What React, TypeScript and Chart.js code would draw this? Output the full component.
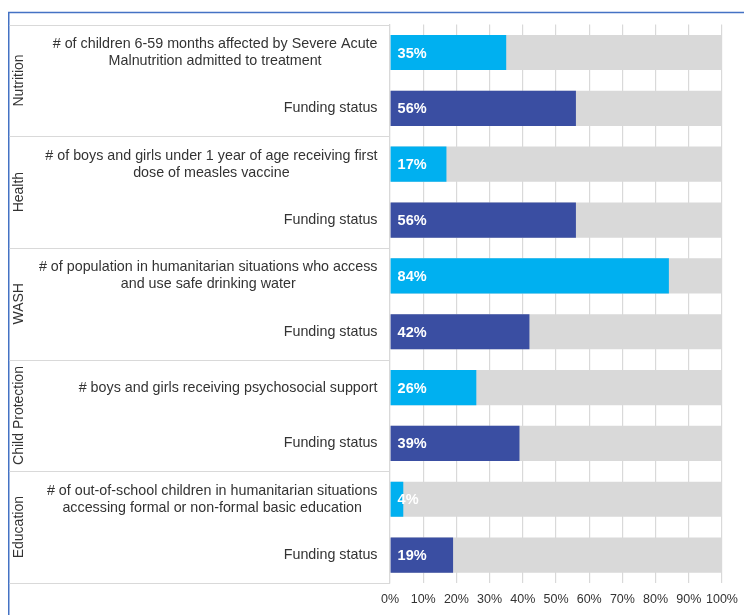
import React, { useEffect, useRef } from "react";
import { Chart, registerables } from "chart.js";

Chart.register(...registerables);

const groups = ["Nutrition", "Health", "WASH", "Child Protection", "Education"];

const indicatorLabels: string[][] = [
  ["# of children 6-59 months affected by Severe Acute", "Malnutrition admitted to treatment"],
  ["Funding status"],
  ["# of boys and girls under 1 year of age receiving first", "dose of measles vaccine"],
  ["Funding status"],
  ["# of population in humanitarian situations who access", "and use safe drinking water"],
  ["Funding status"],
  ["# boys and girls receiving psychosocial support"],
  ["Funding status"],
  ["# of out-of-school children in humanitarian situations", "accessing formal or non-formal basic education"],
  ["Funding status"],
];

const values = [35, 56, 17, 56, 84, 42, 26, 39, 4, 19];
const track = [100, 100, 100, 100, 100, 100, 100, 100, 100, 100];
const xTicks = [0, 10, 20, 30, 40, 50, 60, 70, 80, 90, 100];

const INDICATOR_COLOR = "#00B0F0";
const FUNDING_COLOR = "#3A4EA2";
const TRACK_COLOR = "#D9D9D9";
const TEXT_COLOR = "#333333";
const FONT = "'Liberation Sans', Arial, sans-serif";

const W = 744;
const H = 615;

export default function App() {
  const ref = useRef<HTMLCanvasElement | null>(null);

  useEffect(() => {
    const canvas = ref.current;
    if (!canvas) return;

    const framePlugin = {
      id: "frame",
      beforeDraw(chart: any) {
        const ctx = chart.ctx;
        ctx.save();
        ctx.strokeStyle = "#4472C4";
        ctx.lineWidth = 1.5;
        ctx.beginPath();
        ctx.moveTo(8.75, H);
        ctx.lineTo(8.75, 12.5);
        ctx.lineTo(W, 12.5);
        ctx.stroke();
        ctx.restore();
      },
    };

    const labelsPlugin = {
      id: "labels",
      afterDatasetsDraw(chart: any) {
        const ctx = chart.ctx;
        const meta = chart.getDatasetMeta(0);
        ctx.save();
        ctx.fillStyle = "#FFFFFF";
        ctx.font = `bold 14.5px ${FONT}`;
        ctx.textBaseline = "middle";
        ctx.textAlign = "left";
        meta.data.forEach((el: any, i: number) => {
          ctx.fillText(`${values[i]}%`, el.base + 7, el.y + 1);
        });
        ctx.restore();
      },
      afterDraw(chart: any) {
        const ctx = chart.ctx;
        const yScale = chart.scales.y;
        const area = chart.chartArea;
        ctx.save();
        // table separators
        ctx.strokeStyle = "#D9D9D9";
        ctx.lineWidth = 1.2;
        const rowH = (area.bottom - area.top) / indicatorLabels.length;
        for (let g = 0; g <= groups.length; g++) {
          const y = Math.round(area.top + g * rowH * 2) + 0.5;
          ctx.beginPath();
          ctx.moveTo(9.5, y);
          ctx.lineTo(area.left - 1, y);
          ctx.stroke();
        }
        // inner labels
        ctx.fillStyle = TEXT_COLOR;
        ctx.font = `14.3px ${FONT}`;
        ctx.textBaseline = "middle";
        ctx.textAlign = "center";
        const rightEdge = area.left - 12.5;
        const lineH = 17;
        indicatorLabels.forEach((lines, i) => {
          const cy = yScale.getPixelForValue(i);
          const maxW = Math.max(...lines.map((l) => ctx.measureText(l).width));
          const cx = rightEdge - maxW / 2;
          const startY = cy - ((lines.length - 1) * lineH) / 2;
          lines.forEach((l, k) => ctx.fillText(l, cx, startY + k * lineH));
        });
        // group labels
        ctx.font = `14px ${FONT}`;
        groups.forEach((g, gi) => {
          const cy = (yScale.getPixelForValue(gi * 2) + yScale.getPixelForValue(gi * 2 + 1)) / 2;
          ctx.save();
          ctx.translate(19, cy);
          ctx.rotate(-Math.PI / 2);
          ctx.fillText(g, 0, 0);
          ctx.restore();
        });
        ctx.restore();
      },
    };

    const chart = new Chart(canvas, {
      type: "bar",
      data: {
        labels: indicatorLabels.map((l) => l.join(" ")),
        datasets: [
          {
            data: values,
            backgroundColor: values.map((_, i) => (i % 2 === 0 ? INDICATOR_COLOR : FUNDING_COLOR)),
            borderWidth: 0,
            categoryPercentage: 1,
            barPercentage: 0.63,
            grouped: false,
          },
          {
            data: track,
            backgroundColor: TRACK_COLOR,
            borderWidth: 0,
            categoryPercentage: 1,
            barPercentage: 0.63,
            grouped: false,
          },
        ],
      },
      options: {
        indexAxis: "y",
        responsive: false,
        animation: false,
        layout: { padding: { top: 24.6, right: 22, bottom: 0, left: 0 } },
        plugins: {
          legend: { display: false },
          tooltip: { enabled: false },
        },
        scales: {
          x: {
            min: 0,
            max: 100,
            afterBuildTicks: (scale: any) => {
              scale.ticks = xTicks.map((v) => ({ value: v }));
            },
            afterFit: (scale: any) => {
              scale.height = 32;
              scale.paddingLeft = 0;
              scale.paddingRight = 0;
            },
            ticks: {
              color: TEXT_COLOR,
              font: { family: FONT, size: 12.5 },
              padding: 9,
              maxRotation: 0,
              autoSkip: false,
              callback: (v: any) => `${v}%`,
            },
            grid: { color: "#D9D9D9", lineWidth: 1.2, drawTicks: false },
            border: { display: false },
          },
          y: {
            type: "category",
            afterFit: (scale: any) => {
              scale.width = 390;
              scale.paddingTop = 0;
              scale.paddingBottom = 0;
            },
            ticks: { display: false },
            grid: { display: false, drawTicks: false },
            border: { display: true, color: "#D9D9D9", width: 1.2 },
          },
        },
      },
      plugins: [framePlugin, labelsPlugin],
    } as any);

    return () => chart.destroy();
  }, []);

  return (
    <div style={{ position: "fixed", left: 0, top: 0, width: W, height: H, background: "#fff" }}>
      <canvas ref={ref} width={W} height={H} style={{ display: "block" }} />
    </div>
  );
}
